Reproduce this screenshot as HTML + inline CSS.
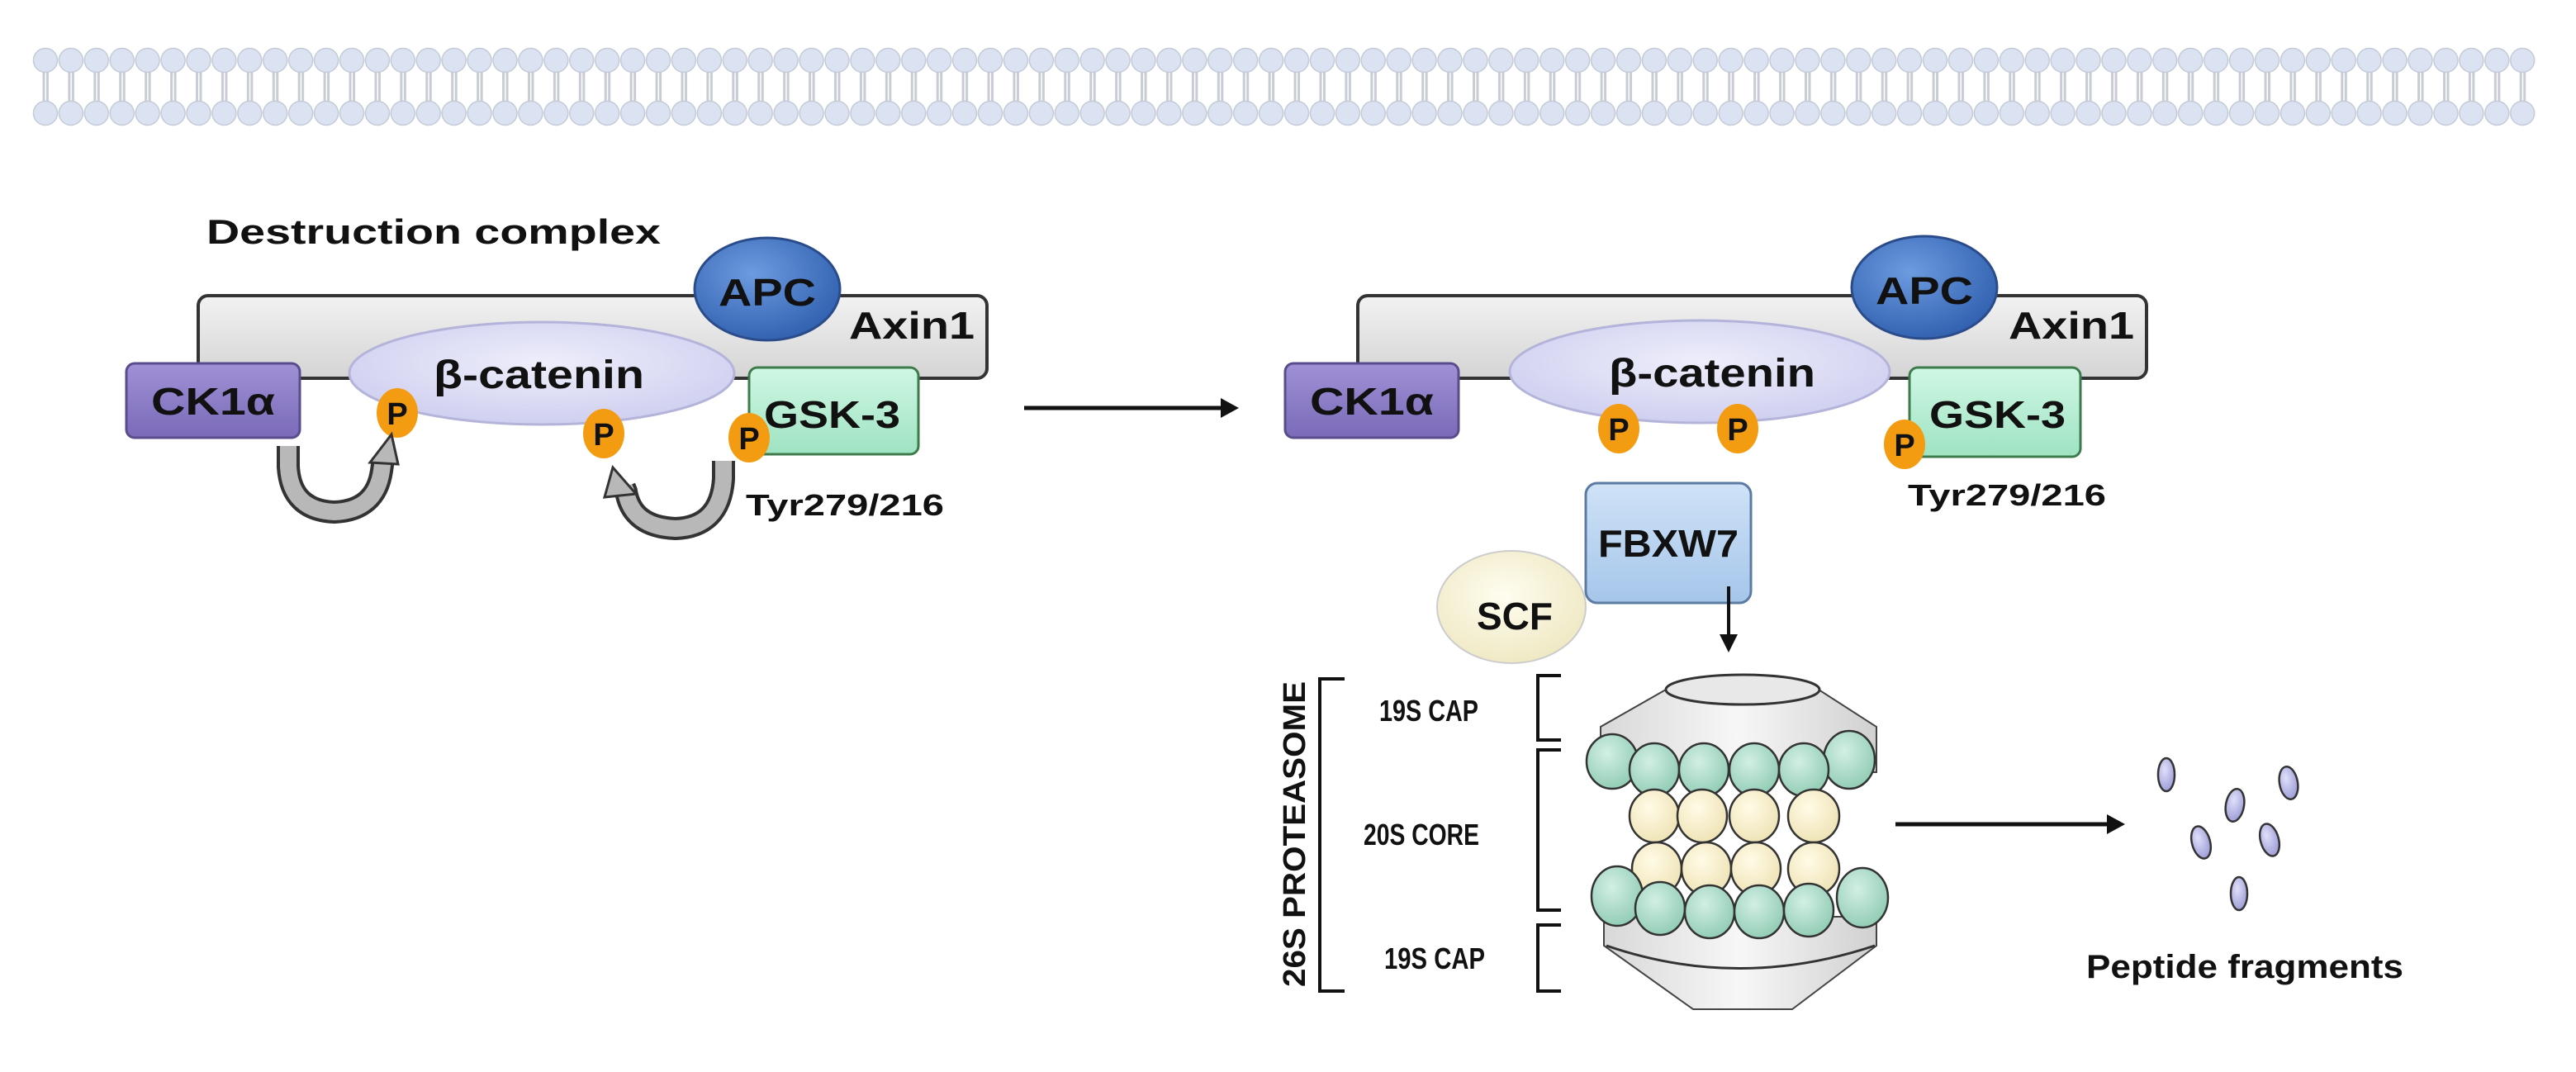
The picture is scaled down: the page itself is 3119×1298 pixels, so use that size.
<!DOCTYPE html>
<html><head><meta charset="utf-8"><style>
html,body{margin:0;padding:0;background:#fff;}
svg{display:block;}
text{font-family:"Liberation Sans",sans-serif;font-weight:bold;fill:#111;}
</style></head><body>
<svg width="3119" height="1298" viewBox="0 0 3119 1298" xmlns="http://www.w3.org/2000/svg">
<defs>
<pattern id="mem" x="39.5" y="0" width="30.92" height="1298" patternUnits="userSpaceOnUse">
<rect x="12" y="85" width="3" height="40" fill="#c8ccd4"/>
<rect x="16.5" y="85" width="3" height="40" fill="#c8ccd4"/>
<circle cx="15.46" cy="73" r="14.5" fill="#dbe3f2" stroke="#c4cad6" stroke-width="1.5"/>
<circle cx="15.46" cy="137" r="14.5" fill="#dbe3f2" stroke="#c4cad6" stroke-width="1.5"/>
</pattern>
<linearGradient id="axin" x1="0" y1="0" x2="0" y2="1"><stop offset="0" stop-color="#f2f2f2"/><stop offset="1" stop-color="#d4d4d4"/></linearGradient>
<radialGradient id="apc" cx="0.4" cy="0.35" r="0.7"><stop offset="0" stop-color="#6d9be0"/><stop offset="1" stop-color="#2f5fae"/></radialGradient>
<linearGradient id="ck" x1="0" y1="0" x2="0" y2="1"><stop offset="0" stop-color="#a091d6"/><stop offset="1" stop-color="#7a6ab8"/></linearGradient>
<linearGradient id="gsk" x1="0" y1="0" x2="0" y2="1"><stop offset="0" stop-color="#d0f7e4"/><stop offset="1" stop-color="#9ee3c2"/></linearGradient>
<radialGradient id="bcat" cx="0.5" cy="0.4" r="0.6"><stop offset="0" stop-color="#eeeefb"/><stop offset="1" stop-color="#cfcff0"/></radialGradient>
<linearGradient id="fb" x1="0" y1="0" x2="0" y2="1"><stop offset="0" stop-color="#cfe2f7"/><stop offset="1" stop-color="#a5c6ea"/></linearGradient>
<radialGradient id="scf" cx="0.45" cy="0.4" r="0.6"><stop offset="0" stop-color="#fffdf0"/><stop offset="1" stop-color="#efe9c4"/></radialGradient>
<radialGradient id="gc" cx="0.4" cy="0.35" r="0.7"><stop offset="0" stop-color="#d2efe4"/><stop offset="1" stop-color="#8fcbb3"/></radialGradient>
<radialGradient id="yc" cx="0.4" cy="0.35" r="0.7"><stop offset="0" stop-color="#fffbe6"/><stop offset="1" stop-color="#eee2b4"/></radialGradient>
<radialGradient id="pp" cx="0.4" cy="0.35" r="0.7"><stop offset="0" stop-color="#e0e0fa"/><stop offset="1" stop-color="#9a9ad6"/></radialGradient>
<linearGradient id="cap" x1="0" y1="0" x2="1" y2="0"><stop offset="0" stop-color="#d8d8d8"/><stop offset="0.5" stop-color="#f7f7f7"/><stop offset="1" stop-color="#d0d0d0"/></linearGradient>
</defs>

<rect x="39.5" y="55" width="3030" height="100" fill="url(#mem)"/>

<!-- LEFT COMPLEX -->
<text x="250" y="295" font-size="42" textLength="550" lengthAdjust="spacingAndGlyphs" fill="#333">Destruction complex</text>
<rect x="240" y="358" width="955" height="100" rx="12" fill="url(#axin)" stroke="#333" stroke-width="4"/>
<ellipse cx="929" cy="350" rx="88" ry="62" fill="url(#apc)" stroke="#2a4c8a" stroke-width="3"/>
<text x="929" y="370" font-size="46" text-anchor="middle" textLength="118" lengthAdjust="spacingAndGlyphs">APC</text>
<text x="1028" y="410" font-size="46" textLength="152" lengthAdjust="spacingAndGlyphs">Axin1</text>
<rect x="153" y="440" width="210" height="90" rx="10" fill="url(#ck)" stroke="#5a4c8c" stroke-width="3"/>
<text x="258" y="502" font-size="46" text-anchor="middle" textLength="150" lengthAdjust="spacingAndGlyphs">CK1α</text>
<ellipse cx="656" cy="452" rx="233" ry="62" fill="url(#bcat)" stroke="#b4b4da" stroke-width="3"/>
<text x="525" y="470" font-size="48" textLength="255" lengthAdjust="spacingAndGlyphs">β-catenin</text>
<rect x="907" y="445" width="205" height="105" rx="10" fill="url(#gsk)" stroke="#3d7a4c" stroke-width="3"/>
<text x="925" y="518" font-size="46" textLength="165" lengthAdjust="spacingAndGlyphs">GSK-3</text>
<text x="903" y="624" font-size="36" textLength="240" lengthAdjust="spacingAndGlyphs">Tyr279/216</text>
<ellipse cx="481" cy="500" rx="25" ry="30" fill="#f39c12"/><text x="481" y="514" font-size="38" text-anchor="middle">P</text>
<ellipse cx="731" cy="525" rx="25" ry="30" fill="#f39c12"/><text x="731" y="539" font-size="38" text-anchor="middle">P</text>
<ellipse cx="907" cy="530" rx="25" ry="30" fill="#f39c12"/><text x="907" y="544" font-size="38" text-anchor="middle">P</text>
<!-- curved arrows -->
<path d="M349 540 L349 565 Q352 618 405 620 Q455 618 462 570 L464 556" fill="none" stroke="#333" stroke-width="28"/>
<path d="M349 540 L349 565 Q352 618 405 620 Q455 618 462 570 L464 556" fill="none" stroke="#b8b8b8" stroke-width="20"/>
<polygon points="474,526 448,560 482,562" fill="#b8b8b8" stroke="#333" stroke-width="3"/>
<path d="M876 558 L876 580 Q872 638 818 640 Q765 638 758 595 L756 590" fill="none" stroke="#333" stroke-width="28"/>
<path d="M876 558 L876 580 Q872 638 818 640 Q765 638 758 595 L756 590" fill="none" stroke="#b8b8b8" stroke-width="20"/>
<polygon points="742,566 732,602 770,598" fill="#b8b8b8" stroke="#333" stroke-width="3"/>

<line x1="1240" y1="494" x2="1485" y2="494" stroke="#111" stroke-width="5"/>
<polygon points="1500,494 1478,482 1478,506" fill="#111"/>

<!-- RIGHT COMPLEX -->
<rect x="1644" y="358" width="955" height="100" rx="12" fill="url(#axin)" stroke="#333" stroke-width="4"/>
<ellipse cx="2330" cy="348" rx="88" ry="62" fill="url(#apc)" stroke="#2a4c8a" stroke-width="3"/>
<text x="2330" y="368" font-size="46" text-anchor="middle" textLength="118" lengthAdjust="spacingAndGlyphs">APC</text>
<text x="2432" y="410" font-size="46" textLength="152" lengthAdjust="spacingAndGlyphs">Axin1</text>
<rect x="1556" y="440" width="210" height="90" rx="10" fill="url(#ck)" stroke="#5a4c8c" stroke-width="3"/>
<text x="1661" y="502" font-size="46" text-anchor="middle" textLength="150" lengthAdjust="spacingAndGlyphs">CK1α</text>
<ellipse cx="2058" cy="450" rx="230" ry="62" fill="url(#bcat)" stroke="#b4b4da" stroke-width="3"/>
<text x="1948" y="468" font-size="48" textLength="250" lengthAdjust="spacingAndGlyphs">β-catenin</text>
<rect x="2312" y="445" width="207" height="108" rx="10" fill="url(#gsk)" stroke="#3d7a4c" stroke-width="3"/>
<text x="2336" y="518" font-size="46" textLength="165" lengthAdjust="spacingAndGlyphs">GSK-3</text>
<text x="2310" y="612" font-size="36" textLength="240" lengthAdjust="spacingAndGlyphs">Tyr279/216</text>
<ellipse cx="1830" cy="735" rx="90" ry="68" fill="url(#scf)" stroke="#ccc" stroke-width="2"/>
<rect x="1920" y="585" width="200" height="145" rx="14" fill="url(#fb)" stroke="#5b7ba2" stroke-width="3"/>
<text x="1788" y="762" font-size="46" textLength="92" lengthAdjust="spacingAndGlyphs">SCF</text>
<text x="2020" y="674" font-size="46" text-anchor="middle" textLength="170" lengthAdjust="spacingAndGlyphs">FBXW7</text>
<ellipse cx="1960" cy="519" rx="25" ry="30" fill="#f39c12"/><text x="1960" y="533" font-size="38" text-anchor="middle">P</text>
<ellipse cx="2104" cy="519" rx="25" ry="30" fill="#f39c12"/><text x="2104" y="533" font-size="38" text-anchor="middle">P</text>
<ellipse cx="2306" cy="538" rx="25" ry="30" fill="#f39c12"/><text x="2306" y="552" font-size="38" text-anchor="middle">P</text>

<line x1="2093" y1="710" x2="2093" y2="780" stroke="#111" stroke-width="4"/>
<polygon points="2093,790 2082,768 2104,768" fill="#111"/>

<!-- brackets -->
<path d="M1628 822 L1598 822 L1598 1200 L1628 1200" fill="none" stroke="#111" stroke-width="4"/>
<path d="M1890 818 L1862 818 L1862 896 L1890 896" fill="none" stroke="#111" stroke-width="4"/>
<path d="M1890 908 L1862 908 L1862 1102 L1890 1102" fill="none" stroke="#111" stroke-width="4"/>
<path d="M1890 1120 L1862 1120 L1862 1200 L1890 1200" fill="none" stroke="#111" stroke-width="4"/>
<text transform="translate(1580,1010) rotate(-90)" font-size="38" text-anchor="middle" textLength="370" lengthAdjust="spacingAndGlyphs">26S PROTEASOME</text>
<text x="1730" y="873" font-size="36" text-anchor="middle" textLength="120" lengthAdjust="spacingAndGlyphs">19S CAP</text>
<text x="1721" y="1023" font-size="36" text-anchor="middle" textLength="140" lengthAdjust="spacingAndGlyphs">20S CORE</text>
<text x="1737" y="1173" font-size="36" text-anchor="middle" textLength="122" lengthAdjust="spacingAndGlyphs">19S CAP</text>

<!-- proteasome -->
<path d="M2017 835 L1938 880 L1938 935 L2272 935 L2272 880 L2202 835 Z" fill="url(#cap)" stroke="#444" stroke-width="2"/>
<ellipse cx="2110" cy="835" rx="93" ry="18" fill="#e8e8e8" stroke="#333" stroke-width="3"/>
<path d="M1942 1110 L1942 1145 L2050 1222 L2170 1222 L2272 1145 L2272 1110 Z" fill="url(#cap)" stroke="#444" stroke-width="2"/>
<path d="M1945 1145 Q2105 1200 2270 1145" fill="none" stroke="#333" stroke-width="3"/>
<g stroke="#333" stroke-width="2.5">
<ellipse cx="1952" cy="922" rx="31" ry="33" fill="url(#gc)"/>
<ellipse cx="2239" cy="920" rx="31" ry="35" fill="url(#gc)"/>
<ellipse cx="2003" cy="932" rx="30" ry="32" fill="url(#gc)"/>
<ellipse cx="2063" cy="932" rx="30" ry="32" fill="url(#gc)"/>
<ellipse cx="2124" cy="932" rx="30" ry="32" fill="url(#gc)"/>
<ellipse cx="2184" cy="932" rx="30" ry="32" fill="url(#gc)"/>
<ellipse cx="2003" cy="988" rx="30" ry="32" fill="url(#yc)"/>
<ellipse cx="2061" cy="988" rx="30" ry="32" fill="url(#yc)"/>
<ellipse cx="2124" cy="988" rx="30" ry="32" fill="url(#yc)"/>
<ellipse cx="2196" cy="988" rx="31" ry="32" fill="url(#yc)"/>
<ellipse cx="2006" cy="1052" rx="30" ry="32" fill="url(#yc)"/>
<ellipse cx="2066" cy="1052" rx="30" ry="32" fill="url(#yc)"/>
<ellipse cx="2126" cy="1052" rx="30" ry="32" fill="url(#yc)"/>
<ellipse cx="2196" cy="1052" rx="31" ry="32" fill="url(#yc)"/>
<ellipse cx="1958" cy="1085" rx="31" ry="36" fill="url(#gc)"/>
<ellipse cx="2255" cy="1087" rx="31" ry="36" fill="url(#gc)"/>
<ellipse cx="2010" cy="1100" rx="30" ry="32" fill="url(#gc)"/>
<ellipse cx="2070" cy="1104" rx="30" ry="32" fill="url(#gc)"/>
<ellipse cx="2130" cy="1104" rx="30" ry="32" fill="url(#gc)"/>
<ellipse cx="2190" cy="1102" rx="30" ry="32" fill="url(#gc)"/>
</g>

<line x1="2295" y1="998" x2="2555" y2="998" stroke="#111" stroke-width="5"/>
<polygon points="2573,998 2551,986 2551,1010" fill="#111"/>

<g stroke="#333" stroke-width="2.5" fill="url(#pp)">
<ellipse cx="2623" cy="938" rx="10" ry="20"/>
<ellipse cx="2771" cy="948" rx="11" ry="20" transform="rotate(-10 2771 948)"/>
<ellipse cx="2706" cy="975" rx="11" ry="20" transform="rotate(10 2706 975)"/>
<ellipse cx="2665" cy="1020" rx="11" ry="20" transform="rotate(-15 2665 1020)"/>
<ellipse cx="2748" cy="1017" rx="11" ry="20" transform="rotate(-15 2748 1017)"/>
<ellipse cx="2711" cy="1082" rx="10" ry="20"/>
</g>
<text x="2526" y="1184" font-size="40" textLength="384" lengthAdjust="spacingAndGlyphs">Peptide fragments</text>
</svg>
</body></html>
